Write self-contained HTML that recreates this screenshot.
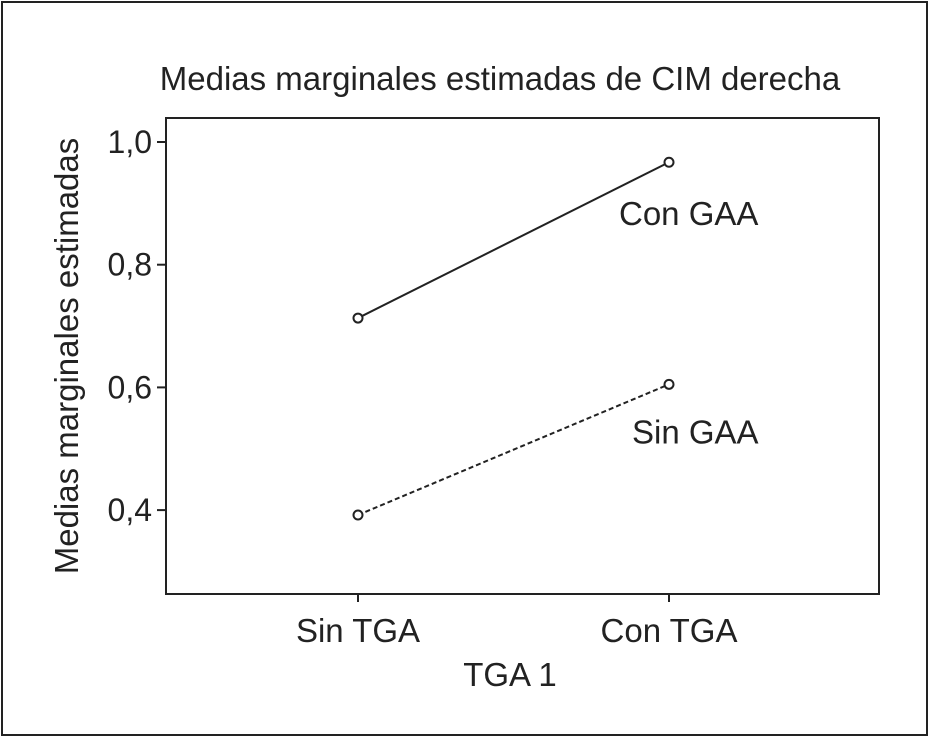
<!DOCTYPE html>
<html><head><meta charset="utf-8"><style>
html,body{margin:0;padding:0;background:#fff;}
svg{display:block;font-family:"Liberation Sans",Arial,sans-serif;}
</style></head><body>
<svg id="chart" width="930" height="738">
<rect x="2" y="2" width="925" height="733" fill="#fff" stroke="#222" stroke-width="2"/>
<text x="500" y="90" text-anchor="middle" font-size="33" fill="#222">Medias marginales estimadas de CIM derecha</text>
<rect x="166" y="118" width="713" height="476" fill="none" stroke="#222" stroke-width="2"/>
<text transform="translate(78,356) rotate(-90)" text-anchor="middle" font-size="33" fill="#222">Medias marginales estimadas</text>
<text x="510" y="686" text-anchor="middle" font-size="33" fill="#222">TGA 1</text>
<g id="axes"></g>
<g id="series"></g>
</svg>
<script>
const categories = ["Sin TGA", "Con TGA"];
const yTicks = [0.4, 0.6, 0.8, 1.0];
const yTickLabels = ["0,4", "0,6", "0,8", "1,0"];
const seriesNames = ["Con GAA", "Sin GAA"];
const conGAA = [0.713, 0.967];
const sinGAA = [0.392, 0.605];

const NS = "http://www.w3.org/2000/svg";
function yScale(v){ return 142 + (1 - v) * 613.5; }
function xScale(i){ return 358 + i * 311; }
function mk(tag, attrs, parent){ const e = document.createElementNS(NS, tag); for (const k in attrs) e.setAttribute(k, attrs[k]); parent.appendChild(e); return e; }

const axes = document.getElementById("axes");
yTicks.forEach((t, i) => {
  const y = yScale(t);
  const l = mk("line", {x1:157, x2:166, y1:y, y2:y, stroke:"#222", "stroke-width":2}, axes);
  
  
  const tx = mk("text", {x:152, y:y+11, "text-anchor":"end", "font-size":32, fill:"#222"}, axes);
  tx.textContent = yTickLabels[i];
  
  
});
categories.forEach((c, i) => {
  const x = xScale(i);
  const l = mk("line", {x1:x, x2:x, y1:594, y2:602, stroke:"#222", "stroke-width":2}, axes);
  
  
  const tx = mk("text", {x:x, y:642, "text-anchor":"middle", "font-size":33, fill:"#222"}, axes);
  tx.textContent = c;
  
  
});

const sg = document.getElementById("series");
const allSeries = [conGAA, sinGAA];
const dashes = ["", "5,3"];
const labelOffsets = [[-50, 63], [-37, 59]];
allSeries.forEach((vals, s) => {
  const pts = vals.map((v, i) => xScale(i) + "," + yScale(v)).join(" ");
  const pl = mk("polyline", {points:pts, fill:"none", stroke:"#222", "stroke-width":2, "stroke-dasharray":dashes[s]}, sg);
  
  
  vals.forEach((v, i) => {
    const c = mk("circle", {cx:xScale(i), cy:yScale(v), r:4.5, fill:"#fff", stroke:"#222", "stroke-width":2}, sg);
    
    
  });
  const last = vals.length - 1;
  const lt = mk("text", {x:xScale(last) + labelOffsets[s][0], y:yScale(vals[last]) + labelOffsets[s][1], "font-size":33, fill:"#222"}, sg);
  lt.textContent = seriesNames[s];
  
  
});
</script>
</body></html>
